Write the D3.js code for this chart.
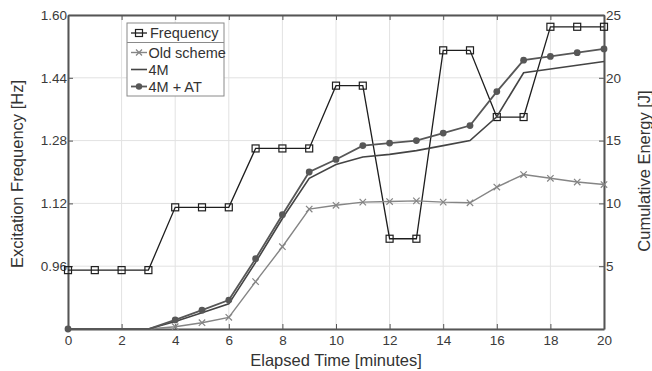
<!DOCTYPE html>
<html><head><meta charset="utf-8">
<script src="https://cdn.jsdelivr.net/npm/d3@7"></script>
<style>
html,body{margin:0;padding:0;background:#fff;}
svg{display:block;font-family:"Liberation Sans",Arial,sans-serif;}
</style></head>
<body><svg id="c" width="652" height="371"></svg>
<script>
const minutes = d3.range(0, 21);
const frequency = [0.95,0.95,0.95,0.95,1.11,1.11,1.11,1.26,1.26,1.26,1.42,1.42,1.03,1.03,1.51,1.51,1.34,1.34,1.57,1.57,1.57];
const oldScheme = [0,0,0,0,0.18,0.5,0.93,3.77,6.55,9.55,9.85,10.1,10.15,10.2,10.1,10.05,11.3,12.3,12.0,11.7,11.5];
const fourM = [0,0,0,0,0.6,1.3,2.0,5.3,8.8,12.0,13.1,13.7,13.9,14.2,14.6,15.0,16.9,20.4,20.7,21.0,21.3];
const fourMAT = [0,0,0,0,0.72,1.5,2.3,5.6,9.1,12.5,13.5,14.6,14.8,15.0,15.6,16.2,18.9,21.4,21.7,22.0,22.3];
const xTicks = [0,2,4,6,8,10,12,14,16,18,20];
const leftTicks = [0.80,0.96,1.12,1.28,1.44,1.60];
const leftTickLabels = ["","0.96","1.12","1.28","1.44","1.60"];
const rightTicks = [0,5,10,15,20,25];
const rightTickLabels = ["","5","10","15","20","25"];
const legendLabels = ["Frequency","Old scheme","4M","4M + AT"];

const svg = d3.select("#c");
const L = 68, R = 604, T = 15, B = 329;
const x = d3.scaleLinear().domain([0,20]).range([L,R]);
const yL = d3.scaleLinear().domain([0.8,1.6]).range([B,T]);
const yR = d3.scaleLinear().domain([0,25]).range([B,T]);

// grid
const g = svg.append("g");
g.selectAll(".gx").data(xTicks).join("line")
  .attr("x1", d=>x(d)).attr("x2", d=>x(d)).attr("y1", T).attr("y2", B)
  .attr("stroke", "#e2e2e2").attr("stroke-width", 1);
g.selectAll(".gy").data(leftTicks).join("line")
  .attr("y1", d=>yL(d)).attr("y2", d=>yL(d)).attr("x1", L).attr("x2", R)
  .attr("stroke", "#e2e2e2").attr("stroke-width", 1);

// axes with inward ticks
const axCol = "#555";
const tl = 5;
const axB = svg.append("g").attr("transform", `translate(0,${B})`)
  .call(d3.axisBottom(x).tickValues(xTicks).tickSizeInner(-tl).tickSizeOuter(0).tickPadding(6).tickFormat(d3.format("d")));
const axT = svg.append("g").attr("transform", `translate(0,${T})`)
  .call(d3.axisTop(x).tickValues(xTicks).tickSizeInner(-tl).tickSizeOuter(0).tickFormat(""));
const axLft = svg.append("g").attr("transform", `translate(${L},0)`)
  .call(d3.axisLeft(yL).tickValues(leftTicks).tickSizeInner(-tl).tickSizeOuter(0).tickPadding(1).tickFormat((d,i)=>leftTickLabels[i]));
const axRgt = svg.append("g").attr("transform", `translate(${R},0)`)
  .call(d3.axisRight(yR).tickValues(rightTicks).tickSizeInner(-tl).tickSizeOuter(0).tickPadding(2).tickFormat((d,i)=>rightTickLabels[i]));
[axB,axT,axLft,axRgt].forEach(a=>{
  a.select(".domain").attr("stroke", axCol).attr("stroke-width", 2);
  a.selectAll(".tick line").attr("stroke", axCol).attr("stroke-width", 1);
  a.selectAll("text").attr("font-size", 13.5).attr("fill", "#3a3a3a").attr("font-family", "Liberation Sans, Arial, sans-serif");
});

// series
const pts = arr => arr.map((v,i)=>({m: minutes[i], v}));
const lineL = d3.line().x(d=>x(d.m)).y(d=>yL(d.v));
const lineR = d3.line().x(d=>x(d.m)).y(d=>yR(d.v));

const freqCol = "#1e1e1e", oldCol = "#858585", m4Col = "#444", atCol = "#575757";

svg.append("path").datum(pts(frequency)).attr("d", lineL).attr("fill","none").attr("stroke",freqCol).attr("stroke-width",1.3);
svg.selectAll(".sq").data(pts(frequency)).join("rect")
  .attr("x", d=>x(d.m)-3.5).attr("y", d=>yL(d.v)-3.5).attr("width",7).attr("height",7)
  .attr("fill","none").attr("stroke",freqCol).attr("stroke-width",1.2);

svg.append("path").datum(pts(oldScheme)).attr("d", lineR).attr("fill","none").attr("stroke",oldCol).attr("stroke-width",1.4);
const xmark = (sel, cx, cy, s, col) => {
  sel.append("path").attr("d", `M${cx-s},${cy-s}L${cx+s},${cy+s}M${cx-s},${cy+s}L${cx+s},${cy-s}`)
    .attr("stroke", col).attr("stroke-width", 1.2).attr("fill","none");
};
const oldMarks = svg.append("g");
pts(oldScheme).filter(d=>d.v>0).forEach(d=>xmark(oldMarks, x(d.m), yR(d.v), 3.2, oldCol));

svg.append("path").datum(pts(fourM)).attr("d", lineR).attr("fill","none").attr("stroke",m4Col).attr("stroke-width",1.6);

svg.append("path").datum(pts(fourMAT)).attr("d", lineR).attr("fill","none").attr("stroke",atCol).attr("stroke-width",1.8);
svg.selectAll(".dot").data(pts(fourMAT).filter((d,i)=>d.v>0 || i===0)).join("circle")
  .attr("cx", d=>x(d.m)).attr("cy", d=>yR(d.v)).attr("r", 3.4).attr("fill", atCol);

// axis labels
svg.append("text").attr("x", (L+R)/2).attr("y", 366).attr("text-anchor","middle")
  .attr("font-size", 16.5).attr("fill","#333").text("Elapsed Time [minutes]");
svg.append("text").attr("transform","translate(23,174) rotate(-90)").attr("text-anchor","middle")
  .attr("font-size", 16.5).attr("fill","#333").text("Excitation Frequency [Hz]");
svg.append("text").attr("transform","translate(650,171) rotate(-90)").attr("text-anchor","middle")
  .attr("font-size", 16.5).attr("fill","#333").text("Cumulative Energy [J]");

// legend
const lg = svg.append("g");
const lx = 127, ly = 23, lw = 97, lh = 73;
lg.append("rect").attr("x", lx).attr("y", ly).attr("width", lw).attr("height", lh)
  .attr("fill","#fff").attr("stroke","#8a8a8a").attr("stroke-width",1);
lg.append("line").attr("x1", lx).attr("x2", lx+lw).attr("y1", 42.5).attr("y2", 42.5)
  .attr("stroke","#8a8a8a").attr("stroke-width",1);
const rows = [33, 52.5, 69.5, 86.5];
const cols = [freqCol, oldCol, m4Col, atCol];
const widths = [1.3, 1.4, 1.6, 1.8];
legendLabels.forEach((lab,i)=>{
  const yy = rows[i];
  lg.append("line").attr("x1", 131).attr("x2", 147).attr("y1", yy).attr("y2", yy)
    .attr("stroke", cols[i]).attr("stroke-width", widths[i]);
  if (i===0) lg.append("rect").attr("x",135.5).attr("y",yy-3.5).attr("width",7).attr("height",7).attr("fill","none").attr("stroke",freqCol).attr("stroke-width",1.2);
  if (i===1) xmark(lg, 139, yy, 3, oldCol);
  if (i===3) lg.append("circle").attr("cx",139).attr("cy",yy).attr("r",3.2).attr("fill",atCol);
  lg.append("text").attr("x", i===0?150:148.5).attr("y", yy+5).attr("font-size", 14.5).attr("fill","#333").text(lab);
});
</script></body></html>
